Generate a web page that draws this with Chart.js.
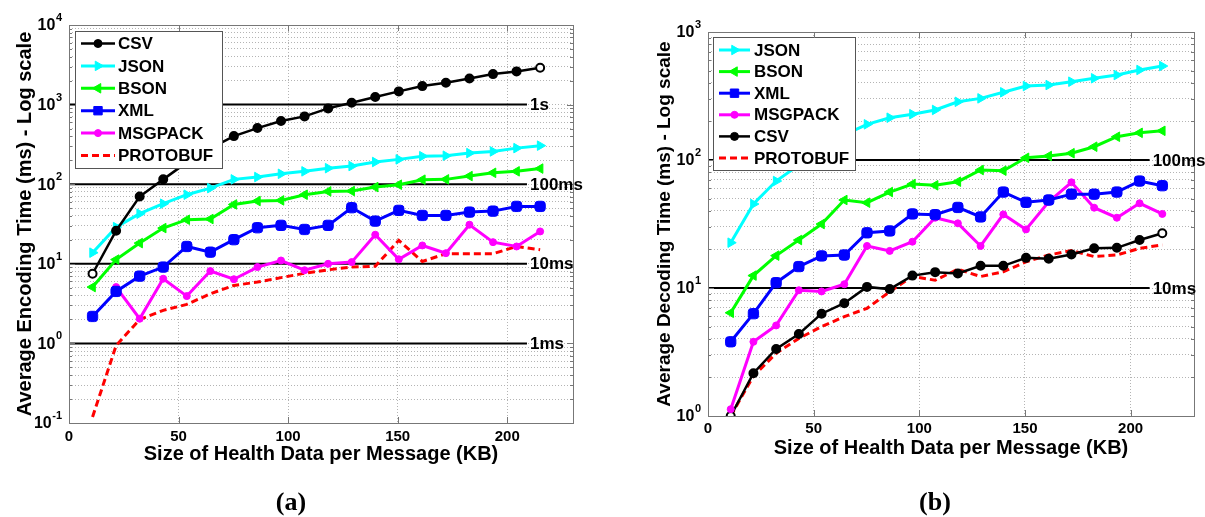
<!DOCTYPE html>
<html>
<head>
<meta charset="utf-8">
<script src="https://cdn.jsdelivr.net/npm/chart.js@4/dist/chart.umd.min.js"></script>
<style>
  body { margin: 0; background: #fff; }
  canvas { position: absolute; top: 0; }
  #chartA { left: 0; }
  #chartB { left: 600px; }
</style>
</head>
<body>
<canvas id="chartA" width="600" height="517"></canvas>
<canvas id="chartB" width="605" height="517"></canvas>
<script>
// message sizes (KB), shared by both panels
const sizeKB = [10.75, 21.5, 32.25, 43, 53.75, 64.5, 75.25, 86, 96.75, 107.5, 118.25, 129, 139.75, 150.5, 161.25, 172, 182.75, 193.5, 204.25, 215];

// (a) average encoding time, ms
const encCSV = [7.5, 26, 70, 115, 188, 282, 402, 507, 621, 711, 896, 1057, 1243, 1465, 1708, 1884, 2133, 2416, 2613, 2909];
const encJSON = [13.8, 28.9, 42.6, 56.9, 73.8, 89.3, 115, 123, 135, 145, 159, 169, 190, 205, 225, 228, 246, 258, 284, 305];
const encBSON = [5.1, 11.3, 18.2, 28.1, 35.8, 36.5, 55.7, 61.4, 62.6, 73.8, 81.2, 82, 92, 98.6, 114, 115, 126.5, 139, 145, 157];
const encXML = [2.18, 4.5, 7.0, 9.1, 16.5, 14.0, 20.1, 28.4, 30.4, 27.0, 30.4, 50.7, 34.4, 46.9, 40.5, 40.5, 44.6, 45.9, 52.6, 52.6];
const encMSGPACK = [null, 5.1, 2.04, 6.5, 3.93, 8.1, 6.4, 9.1, 11.0, 8.3, 10.0, 10.5, 23.2, 11.4, 17.0, 13.6, 31.0, 18.7, 16.5, 25.5];
const encPROTOBUF = [0.119, 0.94, 2.0, 2.6, 3.09, 4.2, 5.35, 5.9, 6.7, 7.6, 8.4, 9.1, 9.3, 19.7, 10.7, 13.4, 13.4, 13.4, 16.5, 15.0];

// (b) average decoding time, ms
const decJSON = [22.6, 45.3, 68.5, 91.4, 122, 157, 190, 214, 228, 246, 285, 303, 338, 378, 385, 409, 435, 461, 505, 542];
const decBSON = [6.4, 12.5, 17.9, 23.7, 31.6, 48.7, 46.4, 56.2, 64.9, 63.4, 67.7, 83.5, 82.5, 104, 107.5, 113, 127, 152, 163, 169];
const decXML = [3.8, 6.3, 11.0, 14.7, 17.8, 18.1, 27.0, 27.9, 37.9, 37.4, 42.6, 35.9, 56.2, 46.7, 48.7, 54.1, 54.1, 56.2, 68.5, 63];
const decMSGPACK = [1.13, 3.8, 5.1, 9.6, 9.4, 10.7, 21.3, 19.5, 23.0, 35.4, 32.0, 21.3, 37.6, 28.7, 47.2, 66.9, 42.4, 35.4, 45.9, 37.9];
const decCSV = [1.0, 2.16, 3.34, 4.37, 6.3, 7.6, 10.2, 9.8, 12.5, 13.3, 13.0, 14.9, 14.9, 17.2, 16.9, 18.3, 20.4, 20.6, 23.7, 26.8];
const decPROTOBUF = [1.0, 2.05, 3.09, 4.04, 4.99, 5.97, 6.94, 9.36, 12.3, 11.5, 14.0, 12.3, 13.4, 16.0, 18.1, 19.6, 17.6, 18.1, 20.4, 21.7];

// axes
const xTicks = [0, 50, 100, 150, 200];
const decadesA = [0.1, 1, 10, 100, 1000, 10000];
const decadeExpA = ["-1", "0", "1", "2", "3", "4"];
const decadesB = [1, 10, 100, 1000];
const decadeExpB = ["0", "1", "2", "3"];

// threshold lines
const refA = [1000, 100, 10, 1];
const refLabelsA = ["1s", "100ms", "10ms", "1ms"];
const refB = [100, 10];
const refLabelsB = ["100ms", "10ms"];
const refEnd = 209;

const FONT = (px) => `bold ${px}px "Liberation Sans", Arial, sans-serif`;

const styles = {
    CSV: { color: "#000000", pointStyle: "circle", radius: 4, rotation: 0, width: 2.5, hollowEnds: true },
    JSON: { color: "#00ffff", pointStyle: "triangle", radius: 5.5, rotation: 90, width: 3 },
    BSON: { color: "#00ff00", pointStyle: "triangle", radius: 5.5, rotation: -90, width: 3 },
    XML: { color: "#0000ff", pointStyle: "rectRounded", radius: 6, rotation: 0, width: 3 },
    MSGPACK: { color: "#ff00ff", pointStyle: "circle", radius: 3.5, rotation: 0, width: 3 },
    PROTOBUF: { color: "#ff0000", pointStyle: false, radius: 0, dash: [7, 4], width: 3 }
};

function series(name, values) {
    const s = styles[name];
    const fill = values.map((v, i) => (s.hollowEnds && (i === 0 || i === values.length - 1)) ? "#ffffff" : s.color);
    return {
        label: name,
        data: values.map((v, i) => ({ x: sizeKB[i], y: v })),
        borderColor: s.color,
        backgroundColor: s.color,
        pointBackgroundColor: fill,
        pointBorderColor: s.color,
        borderWidth: s.width,
        borderDash: s.dash || [],
        pointStyle: s.pointStyle,
        pointRadius: s.radius,
        pointRotation: s.rotation || 0,
        pointBorderWidth: s.hollowEnds ? 2 : 1,
        tension: 0
    };
}

function refLine(v) {
    return {
        label: "",
        data: [{ x: 0, y: v }, { x: refEnd, y: v }],
        borderColor: "#000000",
        borderWidth: 2,
        pointRadius: 0,
        tension: 0
    };
}

function minorTicks(decades) {
    const out = [];
    decades.slice(0, -1).forEach(d => {
        for (let m = 1; m <= 9; m++) out.push(m * d);
    });
    out.push(decades[decades.length - 1]);
    return out;
}

function marker(ctx, s, x, y) {
    ctx.save();
    ctx.fillStyle = s.color;
    ctx.strokeStyle = s.color;
    ctx.lineWidth = 1;
    ctx.beginPath();
    if (s.pointStyle === "circle") {
        ctx.arc(x, y, s.radius, 0, Math.PI * 2);
    } else if (s.pointStyle === "triangle") {
        const a = s.rotation * Math.PI / 180;
        for (let i = 0; i < 3; i++) {
            const t = a + i * 2 * Math.PI / 3;
            const px = x + Math.sin(t) * s.radius, py = y - Math.cos(t) * s.radius;
            i ? ctx.lineTo(px, py) : ctx.moveTo(px, py);
        }
        ctx.closePath();
    } else {
        const h = s.radius * 0.7;
        ctx.rect(x - h, y - h, 2 * h, 2 * h);
    }
    ctx.fill();
    ctx.stroke();
    ctx.restore();
}

function makeDecor(cfg) {
    return {
        id: "decor",
        beforeDraw(chart) {
            const ctx = chart.ctx;
            ctx.save();
            ctx.fillStyle = "#ffffff";
            ctx.fillRect(0, 0, chart.width, chart.height);
            ctx.restore();
        },
        afterDatasetsDraw(chart) {
            const ctx = chart.ctx, L = cfg.legend;
            ctx.save();
            ctx.fillStyle = "#ffffff";
            ctx.fillRect(L.x, L.y, L.w, L.h);
            ctx.strokeStyle = "#555555";
            ctx.lineWidth = 1;
            ctx.strokeRect(L.x + 0.5, L.y + 0.5, L.w, L.h);
            cfg.order.forEach((name, i) => {
                const s = styles[name];
                const y = L.rowY0 + i * L.rowGap;
                ctx.strokeStyle = s.color;
                ctx.lineWidth = s.width;
                ctx.setLineDash(s.dash || []);
                ctx.beginPath();
                ctx.moveTo(L.lineX0, y);
                ctx.lineTo(L.lineX1, y);
                ctx.stroke();
                ctx.setLineDash([]);
                if (s.pointStyle) marker(ctx, s, (L.lineX0 + L.lineX1) / 2, y);
                ctx.fillStyle = "#000000";
                ctx.font = FONT(17);
                ctx.textAlign = "left";
                ctx.textBaseline = "middle";
                ctx.fillText(name, L.textX, y + 1);
            });
            ctx.restore();
        },
        afterDraw(chart) {
            const ctx = chart.ctx, a = chart.chartArea;
            const xs = chart.scales.x, ys = chart.scales.y;
            ctx.save();

            // MATLAB style inward ticks and the axes box
            ctx.strokeStyle = "#777777";
            ctx.lineWidth = 1;
            ctx.beginPath();
            ys.ticks.forEach(t => {
                const py = Math.round(ys.getPixelForValue(t.value)) + 0.5;
                const len = cfg.decades.includes(t.value) ? 6 : 3;
                ctx.moveTo(a.left, py); ctx.lineTo(a.left + len, py);
                ctx.moveTo(a.right, py); ctx.lineTo(a.right - len, py);
            });
            xTicks.forEach(v => {
                const px = Math.round(xs.getPixelForValue(v)) + 0.5;
                ctx.moveTo(px, a.bottom); ctx.lineTo(px, a.bottom - 6);
                ctx.moveTo(px, a.top); ctx.lineTo(px, a.top + 6);
            });
            ctx.stroke();
            ctx.strokeRect(Math.round(a.left) + 0.5, Math.round(a.top) + 0.5,
                Math.round(a.right - a.left), Math.round(a.bottom - a.top));

            ctx.fillStyle = "#000000";
            ctx.textBaseline = "middle";

            // y tick labels: 10 with a raised exponent
            cfg.decades.forEach((d, i) => {
                const py = ys.getPixelForValue(d);
                const right = a.left - 7;
                ctx.font = FONT(11);
                const ew = ctx.measureText(cfg.exps[i]).width;
                ctx.textAlign = "left";
                ctx.fillText(cfg.exps[i], right - ew, py - 7);
                ctx.font = FONT(16);
                ctx.textAlign = "right";
                ctx.fillText("10", right - ew - 0.5, py + 1);
            });

            // x tick labels
            ctx.font = FONT(15);
            ctx.textAlign = "center";
            xTicks.forEach(v => ctx.fillText(String(v), xs.getPixelForValue(v), a.bottom + cfg.tickGap));

            // threshold labels
            ctx.font = FONT(17);
            ctx.textAlign = "left";
            cfg.refs.forEach((v, i) => {
                ctx.fillText(cfg.refLabels[i], xs.getPixelForValue(refEnd) + 3, ys.getPixelForValue(v) + 1);
            });

            // axis titles
            ctx.font = FONT(20);
            ctx.textAlign = "center";
            ctx.fillText("Size of Health Data per Message (KB)", (a.left + a.right) / 2, a.bottom + cfg.xTitleGap);
            ctx.save();
            ctx.translate(cfg.yTitleX, (a.top + a.bottom) / 2);
            ctx.rotate(-Math.PI / 2);
            ctx.font = FONT(cfg.yTitleSize);
            ctx.fillText(cfg.yTitle, 0, 0);
            ctx.restore();

            // panel label
            ctx.font = 'bold 26px "Liberation Serif", "Times New Roman", serif';
            ctx.textAlign = "center";
            ctx.fillText(cfg.panel, cfg.panelX, 503);
            ctx.restore();
        }
    };
}

function makeChart(id, cfg) {
    const gridOpts = { color: "#b4b4b4", lineWidth: 1, drawTicks: false };
    return new Chart(document.getElementById(id), {
        type: "line",
        data: {
            datasets: [
                ...cfg.order.map(name => series(name, cfg.values[name])),
                ...cfg.refs.map(refLine)
            ]
        },
        options: {
            responsive: false,
            animation: false,
            events: [],
            layout: { padding: cfg.padding, autoPadding: false },
            plugins: { legend: { display: false }, tooltip: { enabled: false } },
            scales: {
                x: {
                    type: "linear", min: 0, max: 230,
                    afterBuildTicks: axis => { axis.ticks = xTicks.map(v => ({ value: v })); },
                    afterFit: scale => { scale.height = 0; },
                    ticks: { display: false },
                    grid: gridOpts,
                    border: { display: false, dash: [1, 2] }
                },
                y: {
                    type: "logarithmic",
                    min: cfg.decades[0], max: cfg.decades[cfg.decades.length - 1],
                    afterBuildTicks: axis => { axis.ticks = minorTicks(cfg.decades).map(v => ({ value: v })); },
                    afterFit: scale => { scale.width = 0; },
                    ticks: { display: false },
                    grid: gridOpts,
                    border: { display: false, dash: [1, 2] }
                }
            }
        },
        plugins: [makeDecor(cfg)]
    });
}

makeChart("chartA", {
    order: ["CSV", "JSON", "BSON", "XML", "MSGPACK", "PROTOBUF"],
    values: { CSV: encCSV, JSON: encJSON, BSON: encBSON, XML: encXML, MSGPACK: encMSGPACK, PROTOBUF: encPROTOBUF },
    decades: decadesA, exps: decadeExpA,
    refs: refA, refLabels: refLabelsA,
    padding: { left: 69, right: 27, top: 25, bottom: 94 },
    legend: { x: 75, y: 31, w: 147, h: 137, rowY0: 43.5, rowGap: 22.4, lineX0: 81, lineX1: 115, textX: 118 },
    tickGap: 14, xTitleGap: 31,
    yTitle: "Average Encoding Time (ms) - Log scale", yTitleX: 25, yTitleSize: 20,
    panel: "(a)", panelX: 291
});

makeChart("chartB", {
    order: ["JSON", "BSON", "XML", "MSGPACK", "CSV", "PROTOBUF"],
    values: { JSON: decJSON, BSON: decBSON, XML: decXML, MSGPACK: decMSGPACK, CSV: decCSV, PROTOBUF: decPROTOBUF },
    decades: decadesB, exps: decadeExpB,
    refs: refB, refLabels: refLabelsB,
    padding: { left: 108, right: 11, top: 32, bottom: 101 },
    legend: { x: 113, y: 37, w: 142, h: 133, rowY0: 50, rowGap: 21.6, lineX0: 119, lineX1: 150, textX: 154 },
    tickGap: 13, xTitleGap: 32,
    yTitle: "Average Decoding Time (ms) - Log scale", yTitleX: 65, yTitleSize: 19,
    panel: "(b)", panelX: 335
});
</script>
</body>
</html>
